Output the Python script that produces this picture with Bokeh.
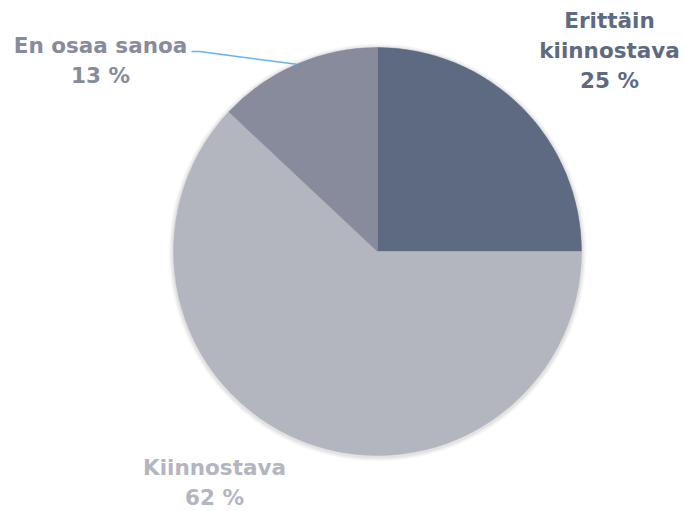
import math
from bokeh.plotting import figure
from bokeh.models import Range1d, ColumnDataSource
from bokeh.core.properties import value
from bokeh.embed import file_html
from bokeh.resources import INLINE

categories = ["Erittäin kiinnostava", "Kiinnostava", "En osaa sanoa"]
percent = [25, 62, 13]
colors = ["#5d6a82", "#b3b5bf", "#878b9b"]
label_lines = [["Erittäin", "kiinnostava", "25 %"], ["Kiinnostava", "62 %"], ["En osaa sanoa", "13 %"]]

W, H = 684, 511
p = figure(width=W, height=H, output_backend="svg", toolbar_location=None,
           x_range=Range1d(0, W), y_range=Range1d(0, H), min_border=0)
p.axis.visible = False
p.grid.visible = False
p.outline_line_color = None
p.background_fill_color = "white"

def sy(Y):
    return H - Y

cx, cy, R = 377, sy(251), 204

# soft shadow
for i, a in enumerate([0.02, 0.025, 0.03, 0.035]):
    p.circle(x=[cx], y=[cy - 1], radius=R + 5 - i, fill_color="#000000", fill_alpha=a, line_color=None)

total = sum(percent)
starts, ends = [], []
cum = 0
for v in percent:
    starts.append(math.pi / 2 - 2 * math.pi * cum / total)
    cum += v
    ends.append(math.pi / 2 - 2 * math.pi * cum / total)

src = ColumnDataSource(dict(start=starts, end=ends, color=colors))
p.wedge(x=cx, y=cy, radius=R, start_angle="start", end_angle="end", direction="clock",
        fill_color="color", line_color="color", line_width=0.5, source=src)

# leader line for En osaa sanoa
mid = (starts[2] + ends[2]) / 2
ex, ey = cx + R * math.cos(mid), cy + R * math.sin(mid)
p.line(x=[191, 199, ex], y=[sy(51), sy(51), ey], line_color="#63b3f5", line_width=1.5)

# labels
label_pos = [(609, 20), (214, 467), (100, 45)]
lh = 30
for lines, (lx, ly), col in zip(label_lines, label_pos, colors):
    xs = [lx] * len(lines)
    ys = [sy(ly + i * lh) for i in range(len(lines))]
    p.text(x=xs, y=ys, text=lines, text_align="center", text_baseline="middle",
           text_font=value("DejaVu Sans"), text_font_style="bold", text_font_size="21.5px",
           text_color=col)

open("out.html", "w").write(file_html(p, INLINE))
